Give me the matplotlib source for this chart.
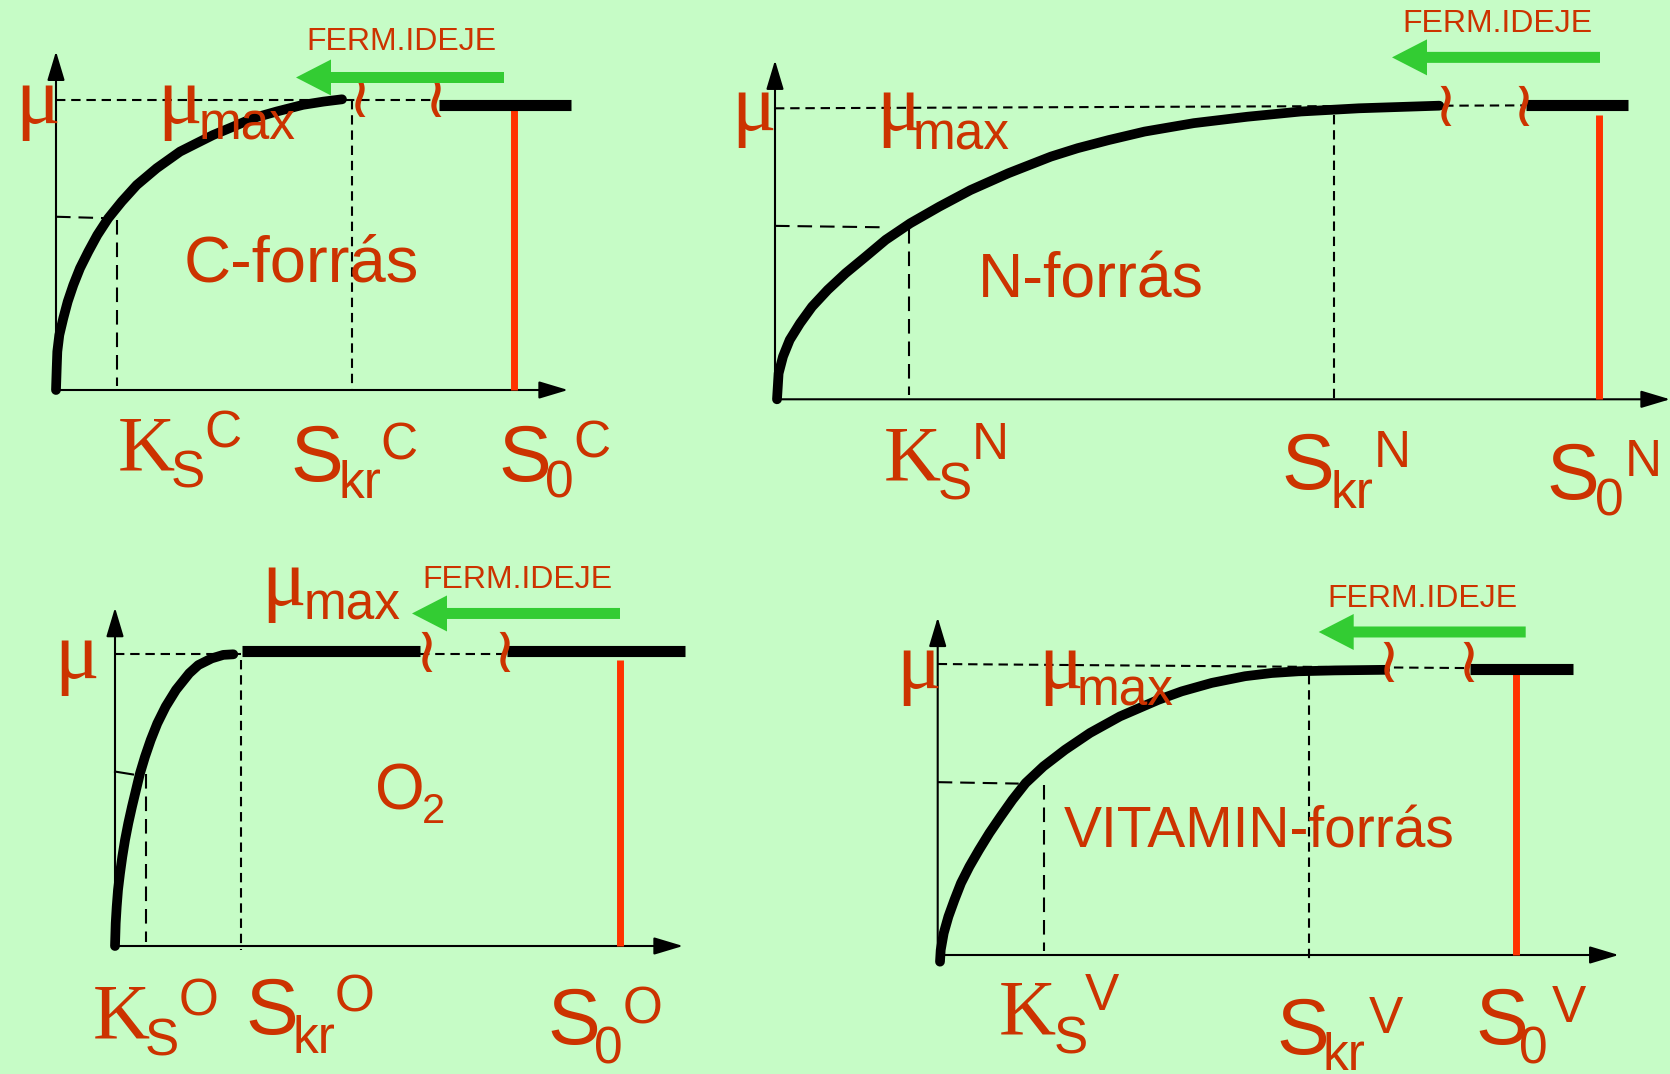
import matplotlib
matplotlib.use('Agg')
import matplotlib.pyplot as plt

W, H = 1670, 1074
BG = '#c6fcc6'
TXT = '#cc3300'
RED = '#ff3300'
GREEN = '#33cc33'

# four panels: C, N, O and vitamin source
panel_keys = ['C', 'N', 'O', 'V']
source_names = ['C-forrás', 'N-forrás', 'O', 'VITAMIN-forrás']
ferm_label = 'FERM.IDEJE'

# values (S in px from the mu axis, mu relative to mu_max)
ks_s = [61, 134, 31, 106]
ks_mu = [0.596, 0.596, 0.598, 0.594]
ks_line_end = [52, 111, 18, 81]
skr_s = [296, 559, 126, 371]
skr_top = [0.997, 0.976, 0.98, 0.963]
skr_bottom = [0.0, 0.0, -0.014, -0.017]
s0_s = [458, 824, 505, 578]
s0_top = [0.976, 0.976, 0.98, 0.979]
break_s = [[303, 379], [670, 748], [311, 389], [451, 531]]
plateau_s = [[[383, 515]], [[751, 853]], [[127, 305], [392, 570]], [[532, 635]]]
plateau_mu = [0.98, 1.01, 1.013, 0.983]
dash_s = [[[0, 379]], [[0, 748]], [[0, 126], [305, 389]], [[0, 531]]]
dash_mu = [[0.997, 0.997], [1.0, 1.01], [1.0, 1.0], [1.0, 0.986]]
ferm_s = [[448, 240], [825, 617], [505, 297], [588, 381]]
ferm_mu = [1.075, 1.175, 1.14, 1.11]

curve_C_s = [0, 0.7, 1.3, 3.3, 7.3, 11.7, 17.3, 24, 32.3, 41.3, 52.3, 65.7, 80.7, 100.7, 124, 140.7, 157,
             177.3, 197, 220.7, 247, 267.3, 286]
curve_C_mu = [0, 0.075, 0.132, 0.189, 0.247, 0.304, 0.361, 0.419, 0.476, 0.533, 0.591, 0.648, 0.705,
              0.763, 0.820, 0.849, 0.877, 0.906, 0.935, 0.958, 0.981, 0.992, 1.0]
curve_N_s = [2, 3.6, 8.0, 14.7, 25, 37, 52.7, 70.5, 90.6, 110.7, 135.3, 164.3, 195.5, 233.5, 275.9, 302.7,
             333.9, 369.6, 418.8, 472.3, 525.9, 583.9, 664.3]
curve_N_mu = [0, 0.089, 0.147, 0.204, 0.261, 0.318, 0.376, 0.433, 0.490, 0.548, 0.605, 0.662, 0.719,
              0.777, 0.834, 0.863, 0.891, 0.920, 0.949, 0.971, 0.989, 1.0, 1.009]
curve_O_s = [0, 0.7, 1.7, 3, 5, 7.3, 10, 13.3, 17, 21, 25, 30, 35.7, 42.3, 50.7, 61, 74.3, 83.3, 96.7,
             108.3, 118.3]
curve_O_mu = [0, 0.078, 0.135, 0.192, 0.249, 0.306, 0.363, 0.421, 0.478, 0.535, 0.592, 0.649, 0.706,
              0.763, 0.821, 0.878, 0.935, 0.963, 0.986, 0.998, 1.0]
curve_V_s = [2.3, 3, 6, 10.7, 16.7, 23.3, 31.7, 41.3, 51.7, 63, 74.7, 88, 105.7, 127.3, 152.3, 182.3,
             220.7, 244, 274, 307.3, 334, 360.7, 397.3, 447.3]
curve_V_mu = [-0.023, 0.017, 0.075, 0.132, 0.189, 0.247, 0.304, 0.361, 0.419, 0.476, 0.533, 0.591, 0.648,
              0.705, 0.763, 0.820, 0.877, 0.906, 0.935, 0.958, 0.969, 0.975, 0.978, 0.98]
curves = {'C': (curve_C_s, curve_C_mu), 'N': (curve_N_s, curve_N_mu),
          'O': (curve_O_s, curve_O_mu), 'V': (curve_V_s, curve_V_mu)}

# layout: origin x, origin y (px from top), mu_max height px, x arrow tip, y arrow top
layout = {
    'C': (56, 390, 290.7, 512, 1.165),
    'N': (775, 399.3, 291, 895, 1.165),
    'O': (115, 946, 291.7, 568, 1.16),
    'V': (937.7, 955, 291, 681, 1.16),
}
ks_style = ['dashed', 'dashed', 'solid', 'dashed']

fig = plt.figure(figsize=(W / 100, H / 100), dpi=100)
fig.patch.set_facecolor(BG)

for i, key in enumerate(panel_keys):
    ox, oy, span, xt, yt = layout[key]
    ax = fig.add_axes([ox / W, (H - oy) / H, xt / W, span / H])
    ax.set_xlim(0, xt)
    ax.set_ylim(0, 1)
    ax.axis('off')
    ax.patch.set_alpha(0)

    arrow = dict(arrowstyle='-|>,head_length=0.9,head_width=0.27', color='k', lw=1.5,
                 shrinkA=0, shrinkB=0, mutation_scale=20)
    ax.annotate('', xy=(0, yt), xytext=(0, 0), arrowprops=arrow, annotation_clip=False)
    ax.annotate('', xy=(xt, 0), xytext=(0, 0), arrowprops=arrow, annotation_clip=False)

    # mu_max dashed level
    end = dash_s[i][-1][1]
    for seg in dash_s[i]:
        m0 = dash_mu[i][0] + (dash_mu[i][1] - dash_mu[i][0]) * seg[0] / end
        m1 = dash_mu[i][0] + (dash_mu[i][1] - dash_mu[i][0]) * seg[1] / end
        ax.plot(seg, [m0, m1], color='k', lw=1.5, dashes=(4.5, 2.8), clip_on=False)

    # Ks guide lines
    if ks_style[i] == 'solid':
        ax.plot([0, ks_line_end[i]], [ks_mu[i], ks_mu[i] - 0.01], color='k', lw=1.5, clip_on=False)
    else:
        ax.plot([0, ks_line_end[i]], [ks_mu[i], ks_mu[i] - 0.005], color='k', lw=1.5, dashes=(7, 3.8),
                clip_on=False)
    ax.plot([ks_s[i], ks_s[i]], [ks_mu[i] - 0.01, 0.015], color='k', lw=1.5, dashes=(7, 3.8), clip_on=False)

    # S_kr guide line
    ax.plot([skr_s[i], skr_s[i]], [skr_top[i], skr_bottom[i]], color='k', lw=1.5, dashes=(4.5, 2.8),
            clip_on=False)

    # growth curve
    cs, cm = curves[key]
    ax.plot(cs, cm, color='k', lw=7, solid_capstyle='round', solid_joinstyle='round', clip_on=False,
            zorder=4)

    # plateau
    for seg in plateau_s[i]:
        ax.plot(seg, [plateau_mu[i], plateau_mu[i]], color='k', lw=8, solid_capstyle='butt',
                clip_on=False, zorder=4)

    # breaks
    for b in break_s[i]:
        ax.text(b, 1.0, '≀', color=TXT, fontsize=46, ha='center', va='center', family='DejaVu Sans',
                zorder=5)

    # S0 red line
    ax.plot([s0_s[i], s0_s[i]], [0, s0_top[i]], color=RED, lw=5, solid_capstyle='butt', clip_on=False,
            zorder=3)

    # fermentation time arrow
    tail, tip = ferm_s[i]
    ax.arrow(tail, ferm_mu[i], tip - tail, 0, width=11 / span, head_width=36 / span, head_length=35,
             length_includes_head=True, fc=GREEN, ec='none', clip_on=False, zorder=5)

# text overlay in pixel coordinates
tx = fig.add_axes([0, 0, 1, 1])
tx.set_xlim(0, W)
tx.set_ylim(H, 0)
tx.axis('off')
tx.patch.set_alpha(0)


def put(x, y, s, size, serif=False):
    fam = 'Liberation Serif' if serif else 'Liberation Sans'
    tx.text(x, y, s, fontsize=size, color=TXT, ha='left', va='baseline', family=fam)


text_pos = {
    'C': dict(ferm=(306, 50), mu=(15, 123), mumax=(157, 123), mx=(199, 140), name=(184, 282),
              labels=[((118, 470), (171, 488), (204, 447)), ((290, 481), (339, 498), (380, 459)),
                      ((498, 481), (545, 497), (573, 457))]),
    'N': dict(ferm=(1402, 32), mu=(731, 130), mumax=(876, 130), mx=(913, 150), name=(978, 298),
              labels=[((884, 480), (938, 499), (972, 459)), ((1281, 489), (1331, 508), (1374, 467)),
                      ((1546, 499), (1595, 516), (1625, 476))]),
    'O': dict(ferm=(422, 588), mu=(54, 678), mumax=(261, 605), mx=(304, 620), name=(375, 810),
              labels=[((93, 1037), (145, 1055), (179, 1015)), ((245, 1034), (292, 1053), (335, 1012)),
                      ((547, 1044), (594, 1063), (623, 1023))]),
    'V': dict(ferm=(1327, 607), mu=(896, 688), mumax=(1038, 688), mx=(1077, 705), name=(1064, 847),
              labels=[((999, 1033), (1054, 1053), (1085, 1010)), ((1276, 1054), (1322, 1070), (1369, 1033)),
                      ((1475, 1044), (1519, 1063), (1552, 1022))]),
}
name_size = {'C': 47, 'N': 45, 'O': 46, 'V': 41}

for i, key in enumerate(panel_keys):
    p = text_pos[key]
    put(*p['ferm'], ferm_label, 23)
    put(*p['mu'], 'μ', 60, serif=True)
    put(*p['mumax'], 'μ', 60, serif=True)
    put(*p['mx'], 'max', 37)
    put(*p['name'], source_names[i], name_size[key])
    if key == 'O':
        put(422, 823, '2', 30)
    bases = [('K', True), ('S', False), ('S', False)]
    subs = ['S', 'kr', '0']
    for (bpos, spos, upos), (b, serif), sub in zip(p['labels'], bases, subs):
        put(*bpos, b, 57, serif=serif)
        put(*spos, sub, 37)
        put(*upos, key, 37)

fig.savefig('out.png', dpi=100, facecolor=BG)
